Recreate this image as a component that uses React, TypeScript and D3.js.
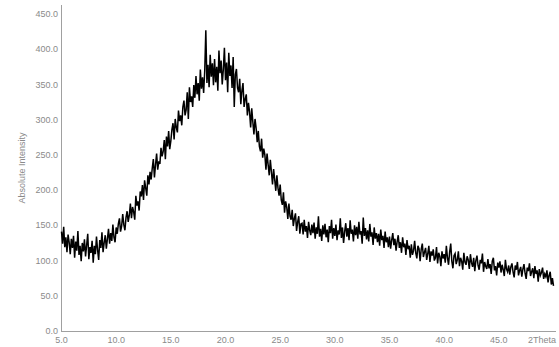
import React from 'react';
import * as d3 from 'd3';

const startAngle = 5.0;
const stepAngle = 0.1;

const intensity: number[] = [
  141, 124, 148, 119, 133, 112, 137, 126, 109, 131,
  118, 135, 104, 127, 114, 142, 108, 121, 99, 125,
  113, 130, 106, 122, 138, 102, 119, 111, 128, 97,
  121, 109, 134, 115, 101, 129, 118, 140, 112, 125,
  136, 117, 131, 145, 124, 139, 128, 151, 133, 126,
  147, 138, 152, 160, 141, 149, 166, 151, 143, 161,
  170, 155, 164, 181, 160, 176, 169, 158, 192, 178,
  184, 171, 198, 191, 207, 186, 214, 203, 192, 221,
  208, 226, 215, 231, 244, 218, 236, 252, 229, 241,
  237, 260, 248, 255, 271, 244, 276, 262, 284, 258,
  270, 286, 295, 272, 301, 289, 282, 313, 298, 306,
  292, 318, 327, 306, 314, 339, 301, 346, 325, 333,
  318, 349, 331, 362, 336, 352, 327, 371, 344, 360,
  338, 369, 427, 352, 378, 346, 392, 361, 380, 349,
  386, 353, 375, 341, 398, 366, 384, 350, 371, 402,
  356, 381, 339, 395, 362, 377, 345, 389, 318, 364,
  372, 345, 339, 358, 322, 341, 352, 318, 329, 336,
  306, 324, 311, 289, 316, 297, 279, 301, 288, 268,
  284, 262, 255, 273, 246, 259, 250, 229, 252, 236,
  221, 243, 226, 208, 230, 215, 199, 221, 203, 192,
  208, 186, 179, 197, 168, 184, 176, 159, 181, 163,
  158, 172, 149, 160, 167, 142, 155, 163, 138, 152,
  153, 137, 158, 141, 149, 132, 155, 143, 136, 151,
  139, 154, 131, 147, 138, 163, 134, 145, 128, 150,
  137, 152, 133, 144, 126, 149, 139, 158, 131, 146,
  135, 151, 129, 143, 137, 160, 132, 147, 125, 141,
  153, 134, 146, 129, 157, 138, 144, 127, 150, 136,
  148, 131, 155, 137, 142, 124, 161, 135, 146, 130,
  143, 127, 152, 134, 140, 122, 147, 131, 139, 126,
  138, 121, 144, 129, 135, 118, 141, 126, 133, 119,
  134, 117, 129, 139, 122, 131, 114, 127, 136, 118,
  126, 111, 133, 119, 124, 108, 129, 116, 121, 104,
  123, 108, 114, 128, 111, 103, 121, 117, 99, 116,
  124, 105, 112, 118, 101, 110, 121, 98, 113, 107,
  116, 100, 104, 119, 96, 111, 106, 92, 113, 103,
  109, 97, 121, 104, 94, 112, 124, 99, 89, 107,
  110, 95, 101, 113, 92, 104, 99, 87, 111, 98,
  94, 106, 101, 88, 109, 97, 91, 104, 85, 100,
  107, 93, 87, 101, 96, 110, 84, 98, 92, 88,
  102, 89, 95, 81, 99, 104, 86, 92, 79, 97,
  90, 99, 83, 94, 87, 78, 101, 88, 84, 93,
  80, 91, 96, 84, 76, 93, 87, 98, 79, 86,
  91, 77, 88, 95, 82, 74, 90, 85, 96, 78,
  84, 89, 75, 92, 81, 86, 70, 88, 79, 83,
  90, 74, 81, 77, 86, 69, 79, 84, 66, 75,
  64,
];

const yTicks = [0, 50, 100, 150, 200, 250, 300, 350, 400, 450];
const xTicks = [5, 10, 15, 20, 25, 30, 35, 40, 45];
const xAxisTitle = '2Theta';
const yAxisTitle = 'Absolute Intensity';

export default function App() {
  const W = 559;
  const H = 347;
  const x = d3.scaleLinear().domain([5, 50]).range([61.5, 553.5]);
  const y = d3.scaleLinear().domain([0, 450]).range([331, 14]);
  const line = d3
    .line<number>()
    .x((_, i) => x(startAngle + i * stepAngle))
    .y((d) => y(d));
  const font = '"Liberation Sans", Arial, sans-serif';
  const textColor = '#8a8a8a';
  const axisColor = '#a0a0a0';

  return (
    <svg
      width={W}
      height={H}
      style={{ position: 'absolute', left: 0, top: 0, background: '#fff' }}
      fontFamily={font}
    >
      <rect width={W} height={H} fill="#ffffff" />
      <line x1={61.5} x2={61.5} y1={5} y2={331.5} stroke={axisColor} strokeWidth={1} />
      <line x1={61} x2={556} y1={331.5} y2={331.5} stroke={axisColor} strokeWidth={1} />
      {yTicks.map((t) => (
        <text
          key={t}
          x={58}
          y={y(t)}
          dy="0.35em"
          textAnchor="end"
          fontSize={9}
          fill={textColor}
        >
          {d3.format('.1f')(t)}
        </text>
      ))}
      {xTicks.map((t) => (
        <text key={t} x={x(t)} y={343} textAnchor="middle" fontSize={9} fill={textColor}>
          {d3.format('.1f')(t)}
        </text>
      ))}
      <text x={556} y={343} textAnchor="end" fontSize={9} fill={textColor}>
        {xAxisTitle}
      </text>
      <text
        transform={`translate(22,${168}) rotate(-90)`}
        textAnchor="middle"
        dy="0.35em"
        fontSize={9}
        fill={textColor}
      >
        {yAxisTitle}
      </text>
      <path
        d={line(intensity) || ''}
        fill="none"
        stroke="#000"
        strokeWidth={1.5}
        strokeLinejoin="miter"
      />
    </svg>
  );
}
